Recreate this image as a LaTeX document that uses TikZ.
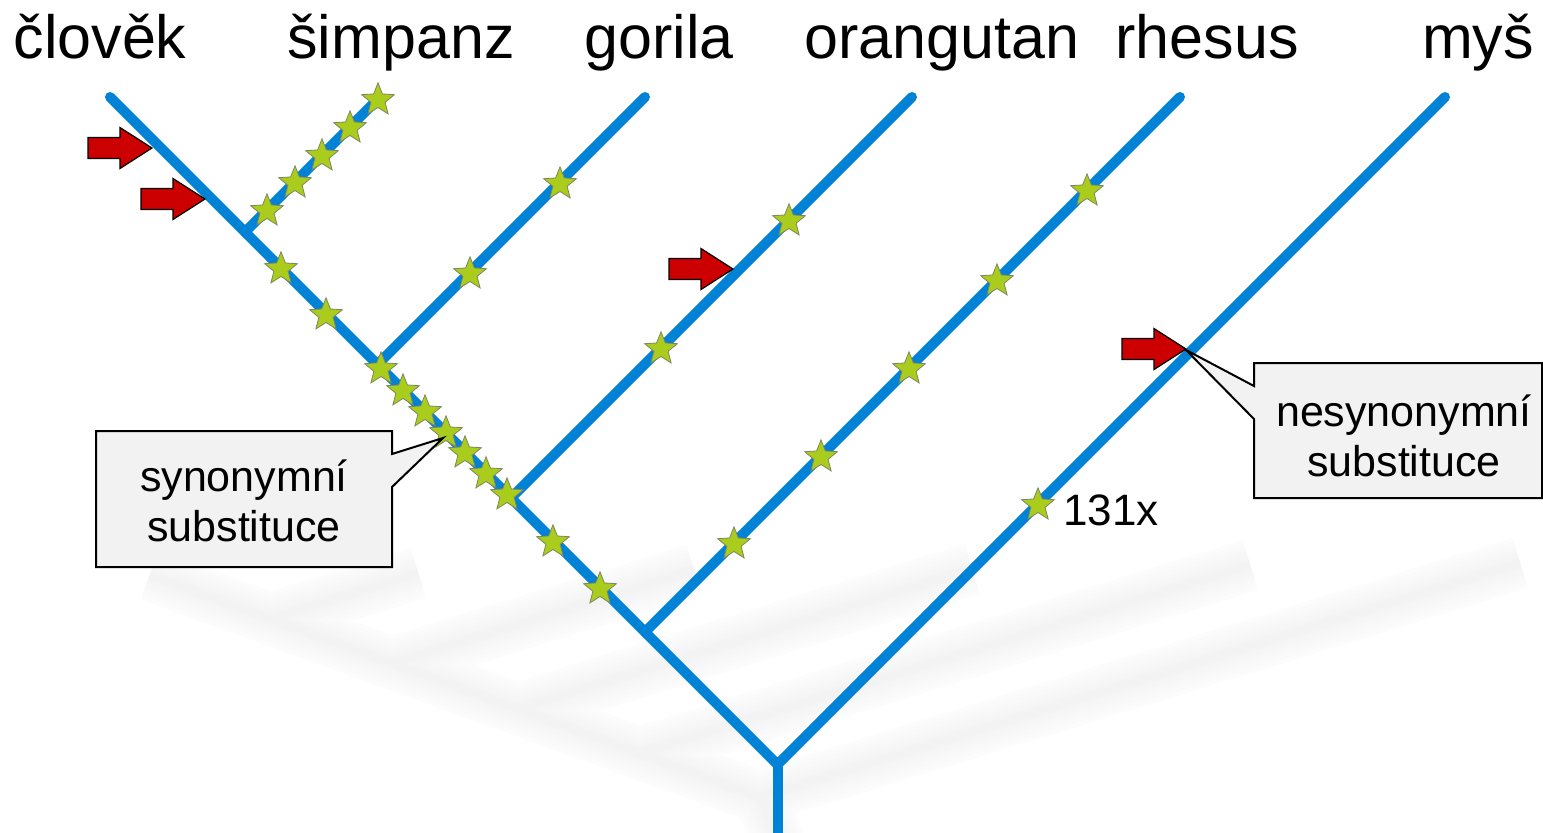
\documentclass[tikz,border=0pt]{standalone}
\usepackage{fontspec}
\setmainfont{Liberation Sans}
\usetikzlibrary{shapes.geometric}
\definecolor{treeblue}{RGB}{0,130,215}
\definecolor{stargreen}{RGB}{170,204,28}
\definecolor{starline}{RGB}{125,135,95}
\definecolor{arrowred}{RGB}{204,0,0}
\definecolor{calloutfill}{RGB}{242,242,242}
\begin{document}
\begin{tikzpicture}[x=0.5pt,y=-0.5pt,
  branch/.style={draw=treeblue,line width=5pt,line cap=round},
  mut/.style={star,star points=5,star point ratio=2.3,minimum size=17.2pt,inner sep=0pt,fill=stargreen,draw=starline,line width=0.4pt},
  taxon/.style={font=\fontsize{30.5}{36}\selectfont,anchor=base,inner sep=0pt},
  callout/.style={fill=calloutfill,draw=black,line width=1pt,line join=miter},
  calltext/.style={font=\fontsize{21.5}{25}\selectfont,align=center,inner sep=0pt},
  redarrow/.pic={\path[fill=arrowred,draw=black,line width=0.6pt,line join=miter] (-64,-10.5)--(-32,-10.5)--(-32,-20.5)--(0,0)--(-32,20.5)--(-32,10.5)--(-64,10.5)--cycle;}
]
\clip (0,0) rectangle (1543,832);
\fill[white] (0,0) rectangle (1543,832);

% floor shadow of the tree
\foreach \w/\c in {26/1.2,22/1.8,18/2.4,14/3,10/3.6,6/4.2,3/4.8}{
  \draw[line width=\w pt,color=black!\c,line cap=butt,line join=round]
    (780,845) -- (760,797) -- (150,575)
    (760,797) -- (1520,563)
    (640,753) -- (1250,565)
    (517,709) -- (972,569)
    (392,663) -- (694,570)
    (269,619) -- (418,573);
}

% tree
\coordinate (root) at (777.5,845);
\coordinate (nMouse) at (777.5,764.5);
\coordinate (nRhesus) at (645,632);
\coordinate (nOrang) at (511,498);
\coordinate (nGor) at (377.5,364.5);
\coordinate (nChimp) at (245,232);
\coordinate (tHuman) at (110,97);
\coordinate (tChimp) at (378,99);
\coordinate (tGor) at (645,97);
\coordinate (tOrang) at (912,97);
\coordinate (tRhesus) at (1180,97);
\coordinate (tMouse) at (1445,97);

\draw[branch,line cap=butt] (root) -- (nMouse);
\draw[branch,line join=miter] (tHuman) -- (nChimp) -- (nGor) -- (nOrang) -- (nRhesus) -- (nMouse) -- (tMouse);
\draw[branch] (nChimp) -- (tChimp);
\draw[branch] (nGor) -- (tGor);
\draw[branch] (nOrang) -- (tOrang);
\draw[branch] (nRhesus) -- (tRhesus);

% taxon labels
\node[taxon] (lHuman) at (100,58) {člověk};
\node[taxon] (lChimp) at (401,58) {šimpanz};
\node[taxon] (lGor) at (659,58) {gorila};
\node[taxon] (lOrang) at (942,58) {orangutan};
\node[taxon] (lRhesus) at (1207,58) {rhesus};
\node[taxon] (lMouse) at (1478,58) {myš};

% mutations
\foreach \x/\y [count=\i] in {378/100,350/128,322/156,295/183,267/211,
  560/184,470/274,789/221,661/349,
  1087/191,997/281,909/369,821/457,734/544,1038/505,
  281/269,326/315,381/369,403/391,425/412,446/433,465/453,486/474,507/495,553/542,600/589}
  \node[mut] (m\i) at (\x,\y) {};

\node[font=\fontsize{22}{26}\selectfont,anchor=base west,inner sep=0pt] (count) at (1063,525) {131x};

% red arrows
\pic at (152,148) {redarrow};
\pic at (205,199) {redarrow};
\pic at (733,269) {redarrow};
\pic at (1186,349) {redarrow};

% callouts
\coordinate (pS) at (443,438);
\coordinate (pN) at (1186,350);
\path[callout] (96,431) -- (392,431) -- (392,454) -- (pS) -- (392,487) -- (392,567) -- (96,567) -- cycle;
\node[calltext] (synText) at (244,501) {synonymní\\substituce};
\path[callout] (1254,363) -- (1542,363) -- (1542,498) -- (1254,498) -- (1254,419) -- (pN) -- (1254,386) -- cycle;
\node[calltext] (nesynText) at (1404,436) {nesynonymní\\substituce};
\end{tikzpicture}
\end{document}
